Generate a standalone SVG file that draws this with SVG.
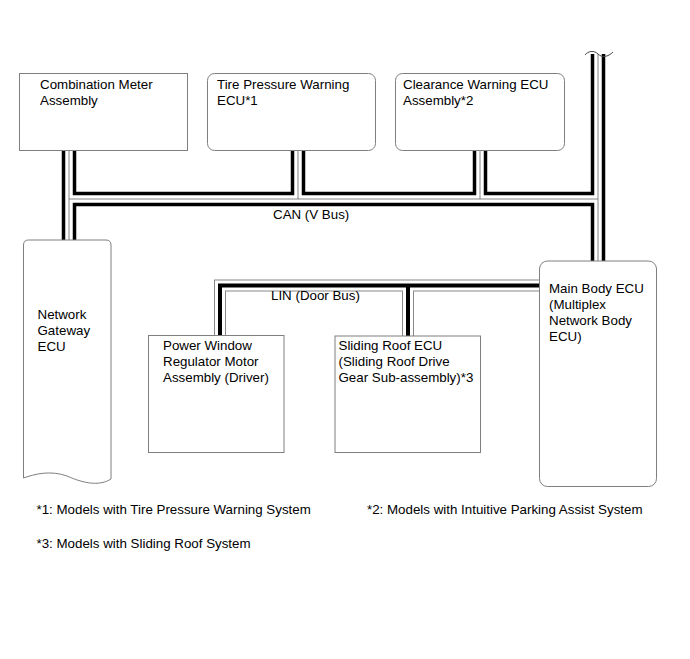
<svg xmlns="http://www.w3.org/2000/svg" width="690" height="659" viewBox="0 0 690 659">
<style>
.box{fill:#fff;stroke:#7f7f7f;stroke-width:1}
text{font-family:"Liberation Sans",Arial,sans-serif;font-size:13.33px;fill:#000}
.canB{fill:none;stroke:#000;stroke-width:14.5;stroke-linecap:butt;stroke-linejoin:miter}
.canW{fill:none;stroke:#fff;stroke-width:7.5;stroke-linecap:butt;stroke-linejoin:miter}
.canT{fill:none;stroke:#666;stroke-width:0.8;stroke-linecap:butt}
.linG{fill:none;stroke:#888;stroke-width:12;stroke-linecap:butt;stroke-linejoin:miter}
.linW{fill:none;stroke:#fff;stroke-width:10;stroke-linecap:butt;stroke-linejoin:miter}
.linK{fill:none;stroke:#000;stroke-width:4;stroke-linecap:butt;stroke-linejoin:miter}
</style>
<defs>
<g id="canSegs">
<path d="M69,150.5 V240"/>
<path d="M69,199 H598"/>
<path d="M298,150.5 V199"/>
<path d="M480,150.5 V199"/>
<path d="M598,54 V261"/>
</g>
<g id="linSegs">
<path d="M220,335.5 V285.5 H539"/>
<path d="M408,285.5 V336"/>
</g>
</defs>
<rect width="690" height="659" fill="#fff"/>

<g id="connectors">
<use href="#canSegs" class="canB"/>
<use href="#canSegs" class="canW"/>
<use href="#canSegs" class="canT"/>
<path d="M585,55 C588,51 594,50 598,54 S608,57 613,52" fill="none" stroke="#444" stroke-width="1"/>
<use href="#linSegs" class="linG"/>
<use href="#linSegs" class="linW"/>
<use href="#linSegs" class="linK"/>
<text x="273" y="218.5">CAN (V Bus)</text>
<text x="271" y="299.5">LIN (Door Bus)</text>
</g>

<g id="combination-meter">
<rect class="box" x="19.5" y="73.5" width="168" height="77"/>
<text x="40" y="88.5">Combination Meter</text>
<text x="40" y="104.5">Assembly</text>
</g>

<g id="tire-pressure">
<rect class="box" x="207.5" y="73.5" width="168" height="77" rx="7"/>
<text x="217" y="88.5">Tire Pressure Warning</text>
<text x="217" y="104.5">ECU*1</text>
</g>

<g id="clearance-warning">
<rect class="box" x="395.5" y="73.5" width="169" height="77" rx="7"/>
<text x="403" y="88.5">Clearance Warning ECU</text>
<text x="403" y="104.5">Assembly*2</text>
</g>

<g id="network-gateway">
<path class="box" d="M23.5,478 V245 Q23.5,240 28.5,240 H106 Q111,240 111,245 V479 C100,486 85,484 67,476 C50,470 35,474 23.5,478 Z"/>
<text x="37.5" y="319">Network</text>
<text x="37.5" y="335">Gateway</text>
<text x="37.5" y="351">ECU</text>
</g>

<g id="main-body">
<rect class="box" x="539.5" y="261" width="117" height="225.5" rx="8"/>
<text x="549" y="293">Main Body ECU</text>
<text x="549" y="309">(Multiplex</text>
<text x="549" y="325">Network Body</text>
<text x="549" y="341">ECU)</text>
</g>

<g id="power-window">
<rect class="box" x="148.5" y="335.5" width="135.5" height="117"/>
<text x="163" y="350">Power Window</text>
<text x="163" y="366">Regulator Motor</text>
<text x="163" y="382">Assembly (Driver)</text>
</g>

<g id="sliding-roof">
<rect class="box" x="335" y="336" width="145.5" height="116.5"/>
<text x="338.5" y="350">Sliding Roof ECU</text>
<text x="338.5" y="366">(Sliding Roof Drive</text>
<text x="338.5" y="382">Gear Sub-assembly)*3</text>
</g>

<g id="footnotes">
<text x="36.5" y="514">*1: Models with Tire Pressure Warning System</text>
<text x="367" y="514">*2: Models with Intuitive Parking Assist System</text>
<text x="36.5" y="548">*3: Models with Sliding Roof System</text>
</g>
</svg>
